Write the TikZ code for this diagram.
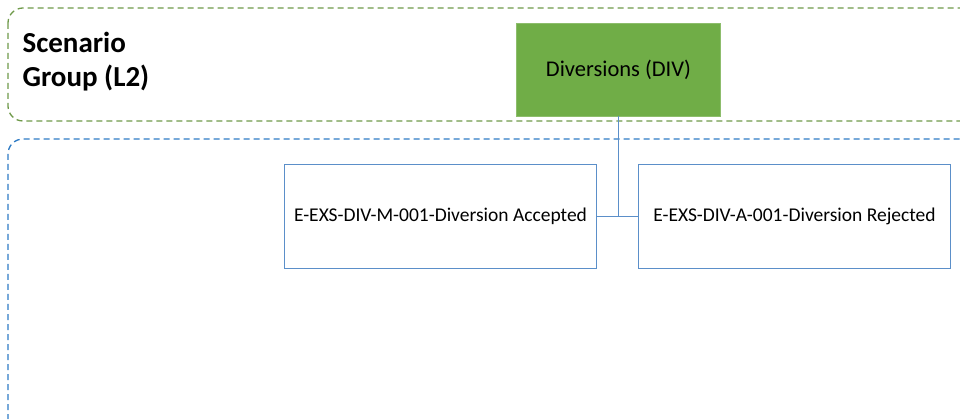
\documentclass[tikz,border=0pt]{standalone}
\usepackage{fontspec}
\setmainfont{Carlito}
\usepackage{xcolor}
\usepackage{tikz}
\usetikzlibrary{positioning}

\definecolor{grpgreen}{HTML}{6F9A4A}
\definecolor{grpblue}{HTML}{2E7BC4}
\definecolor{divfill}{HTML}{70AD47}
\definecolor{boxblue}{HTML}{5B8FC9}

\tikzset{
  grpframe/.style={line width=1.3pt, dash pattern=on 6pt off 4pt, rounded corners=15pt},
  divbox/.style={fill=divfill, draw=divfill!80!white, minimum width=204pt, minimum height=93pt, font=\fontsize{22.5}{27}\selectfont},
  scnbox/.style={draw=boxblue, line width=1.4pt, fill=white, minimum width=312pt, minimum height=104pt, font=\fontsize{19.5}{24}\selectfont},
  link/.style={draw=boxblue, line width=1.4pt}
}

\begin{document}
\begin{tikzpicture}[x=1pt,y=-1pt]
\useasboundingbox (0,0) rectangle (960,419);
\clip (0,0) rectangle (960,419);

\draw[grpframe, draw=grpgreen] (8,8) rectangle (1000,121);
\draw[grpframe, draw=grpblue] (8,139) rectangle (1000,460);

\node at (19,62) (title)[anchor=west, align=left, font=\bfseries\fontsize{29}{34}\selectfont]{Scenario\\Group (L2)};

\node at (618.5,69.5) (div)[divbox]{Diversions (DIV)};
\node at (440.5,216.5) (accepted)[scnbox]{E-EXS-DIV-M-001-Diversion Accepted};
\node at (794.5,216.5) (rejected)[scnbox]{E-EXS-DIV-A-001-Diversion Rejected};
\coordinate (hub) at (div.south |- accepted.east);

\path[link] (div.south) -- (hub);
\path[link] (accepted.east) -- (hub) -- (rejected.west);
\end{tikzpicture}
\end{document}
